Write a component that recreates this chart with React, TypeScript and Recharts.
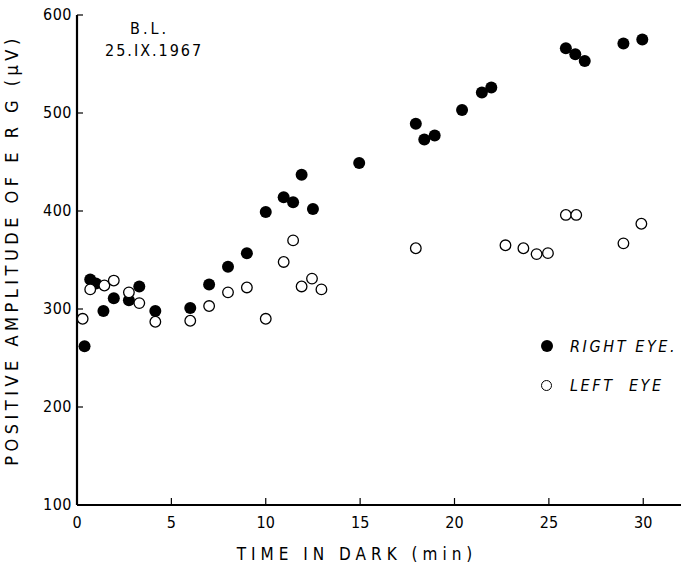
import React from "react";
import { Label, Scatter, ScatterChart, XAxis, YAxis } from "recharts";

// time in dark (min) / positive amplitude of ERG (µV)
const rightEyeTime = [0.4, 0.7, 1.0, 1.4, 1.95, 2.75, 3.3, 4.15, 6.0, 7.0, 8.0, 9.0, 10.0, 10.95, 11.45, 11.9, 12.5, 14.95, 17.95, 18.4, 18.95, 20.4, 21.45, 21.95, 25.9, 26.4, 26.9, 28.95, 29.95];
const rightEyeAmp = [262, 330, 326, 298, 311, 309, 323, 298, 301, 325, 343, 357, 399, 414, 409, 437, 402, 449, 489, 473, 477, 503, 521, 526, 566, 560, 553, 571, 575];

const leftEyeTime = [0.3, 0.7, 1.45, 1.95, 2.75, 3.3, 4.15, 6.0, 7.0, 8.0, 9.0, 10.0, 10.95, 11.45, 11.9, 12.45, 12.95, 17.95, 22.7, 23.65, 24.35, 24.95, 25.9, 26.45, 28.95, 29.9];
const leftEyeAmp = [290, 320, 324, 329, 317, 306, 287, 288, 303, 317, 322, 290, 348, 370, 323, 331, 320, 362, 365, 362, 356, 357, 396, 396, 367, 387];

const xTicks = [0, 5, 10, 15, 20, 25, 30];
const yTicks = [100, 200, 300, 400, 500, 600];

const rightEye = rightEyeTime.map((t, i) => ({ t, amp: rightEyeAmp[i] }));
const leftEye = leftEyeTime.map((t, i) => ({ t, amp: leftEyeAmp[i] }));

const FONT = "'DejaVu Sans Condensed', 'Liberation Sans Narrow', 'DejaVu Sans', sans-serif";
const W = 681;
const H = 566;
const LEFT = 77;
const BOTTOM = 505;

const YTick = (props: any) => {
  const { y, payload } = props;
  return (
    <g>
      {payload.value !== 100 && <line x1={LEFT} x2={LEFT + 6} y1={y} y2={y} stroke="#000" strokeWidth={1.2} />}
      <text x={LEFT - 5} y={y} dy={5} textAnchor="end" fontSize={16} fontFamily={FONT} fill="#000" letterSpacing={0.5}>
        {payload.value}
      </text>
    </g>
  );
};

const XTick = (props: any) => {
  const { x, payload } = props;
  return (
    <g>
      {payload.value !== 0 && <line x1={x} x2={x} y1={BOTTOM} y2={BOTTOM - 7} stroke="#000" strokeWidth={1.2} />}
      <text x={x} y={BOTTOM + 23} textAnchor="middle" fontSize={16} fontFamily={FONT} fill="#000">
        {payload.value}
      </text>
    </g>
  );
};

const filledDot = (p: any) => <circle cx={p.cx} cy={p.cy} r={6} fill="#000" />;
const openDot = (p: any) => <circle cx={p.cx} cy={p.cy} r={5.3} fill="#fff" stroke="#000" strokeWidth={1.3} />;

export default function App() {
  return (
    <div style={{ position: "absolute", left: 0, top: 0, width: W, height: H, background: "#fff" }}>
      <ScatterChart width={W} height={H} margin={{ top: 15, right: 0, bottom: 0, left: 0 }}>
        <XAxis
          type="number"
          dataKey="t"
          domain={[0, 32]}
          ticks={xTicks}
          allowDataOverflow
          height={61}
          tickLine={false}
          axisLine={{ stroke: "#000", strokeWidth: 2.2 }}
          tick={XTick}
        >
          <Label
            value="TIME IN DARK  (min)"
            position="insideBottom"
            offset={6}
            dx={-22}
            style={{ fontSize: 17, fontFamily: FONT, letterSpacing: 5, fill: "#000" }}
          />
        </XAxis>
        <YAxis
          type="number"
          dataKey="amp"
          domain={[100, 600]}
          ticks={yTicks}
          allowDataOverflow
          width={LEFT}
          tickLine={false}
          axisLine={{ stroke: "#000", strokeWidth: 2.2 }}
          tick={YTick}
        >
          <Label
            value="POSITIVE  AMPLITUDE  OF  E R G  (μV)"
            angle={-90}
            position="insideLeft"
            offset={12}
            dy={-10}
            style={{ fontSize: 18, fontFamily: FONT, letterSpacing: 4.5, fill: "#000", textAnchor: "middle" }}
          />
        </YAxis>
        <Scatter name="RIGHT EYE" data={rightEye} shape={filledDot} isAnimationActive={false} />
        <Scatter name="LEFT EYE" data={leftEye} shape={openDot} isAnimationActive={false} />
      </ScatterChart>
      <div style={{ position: "absolute", left: 105, top: 18, fontFamily: FONT, fontSize: 16, lineHeight: "22px", color: "#000" }}>
        <div style={{ paddingLeft: 25, letterSpacing: 3 }}>B.L.</div>
        <div style={{ letterSpacing: 2 }}>25.IX.1967</div>
      </div>
      <div style={{ position: "absolute", left: 541, top: 334, width: 140, whiteSpace: "nowrap", fontFamily: FONT, fontSize: 16, fontStyle: "italic", color: "#000", letterSpacing: 2.6 }}>
        <div style={{ display: "flex", alignItems: "center", height: 24 }}>
          <span style={{ display: "inline-block", flex: "none", width: 12, height: 12, borderRadius: 6, background: "#000", marginRight: 17 }} />
          RIGHT EYE.
        </div>
        <div style={{ display: "flex", alignItems: "center", height: 24, marginTop: 15 }}>
          <span style={{ display: "inline-block", flex: "none", width: 9, height: 9, borderRadius: 6, border: "1.3px solid #000", marginRight: 18 }} />
          LEFT&nbsp; EYE
        </div>
      </div>
    </div>
  );
}
